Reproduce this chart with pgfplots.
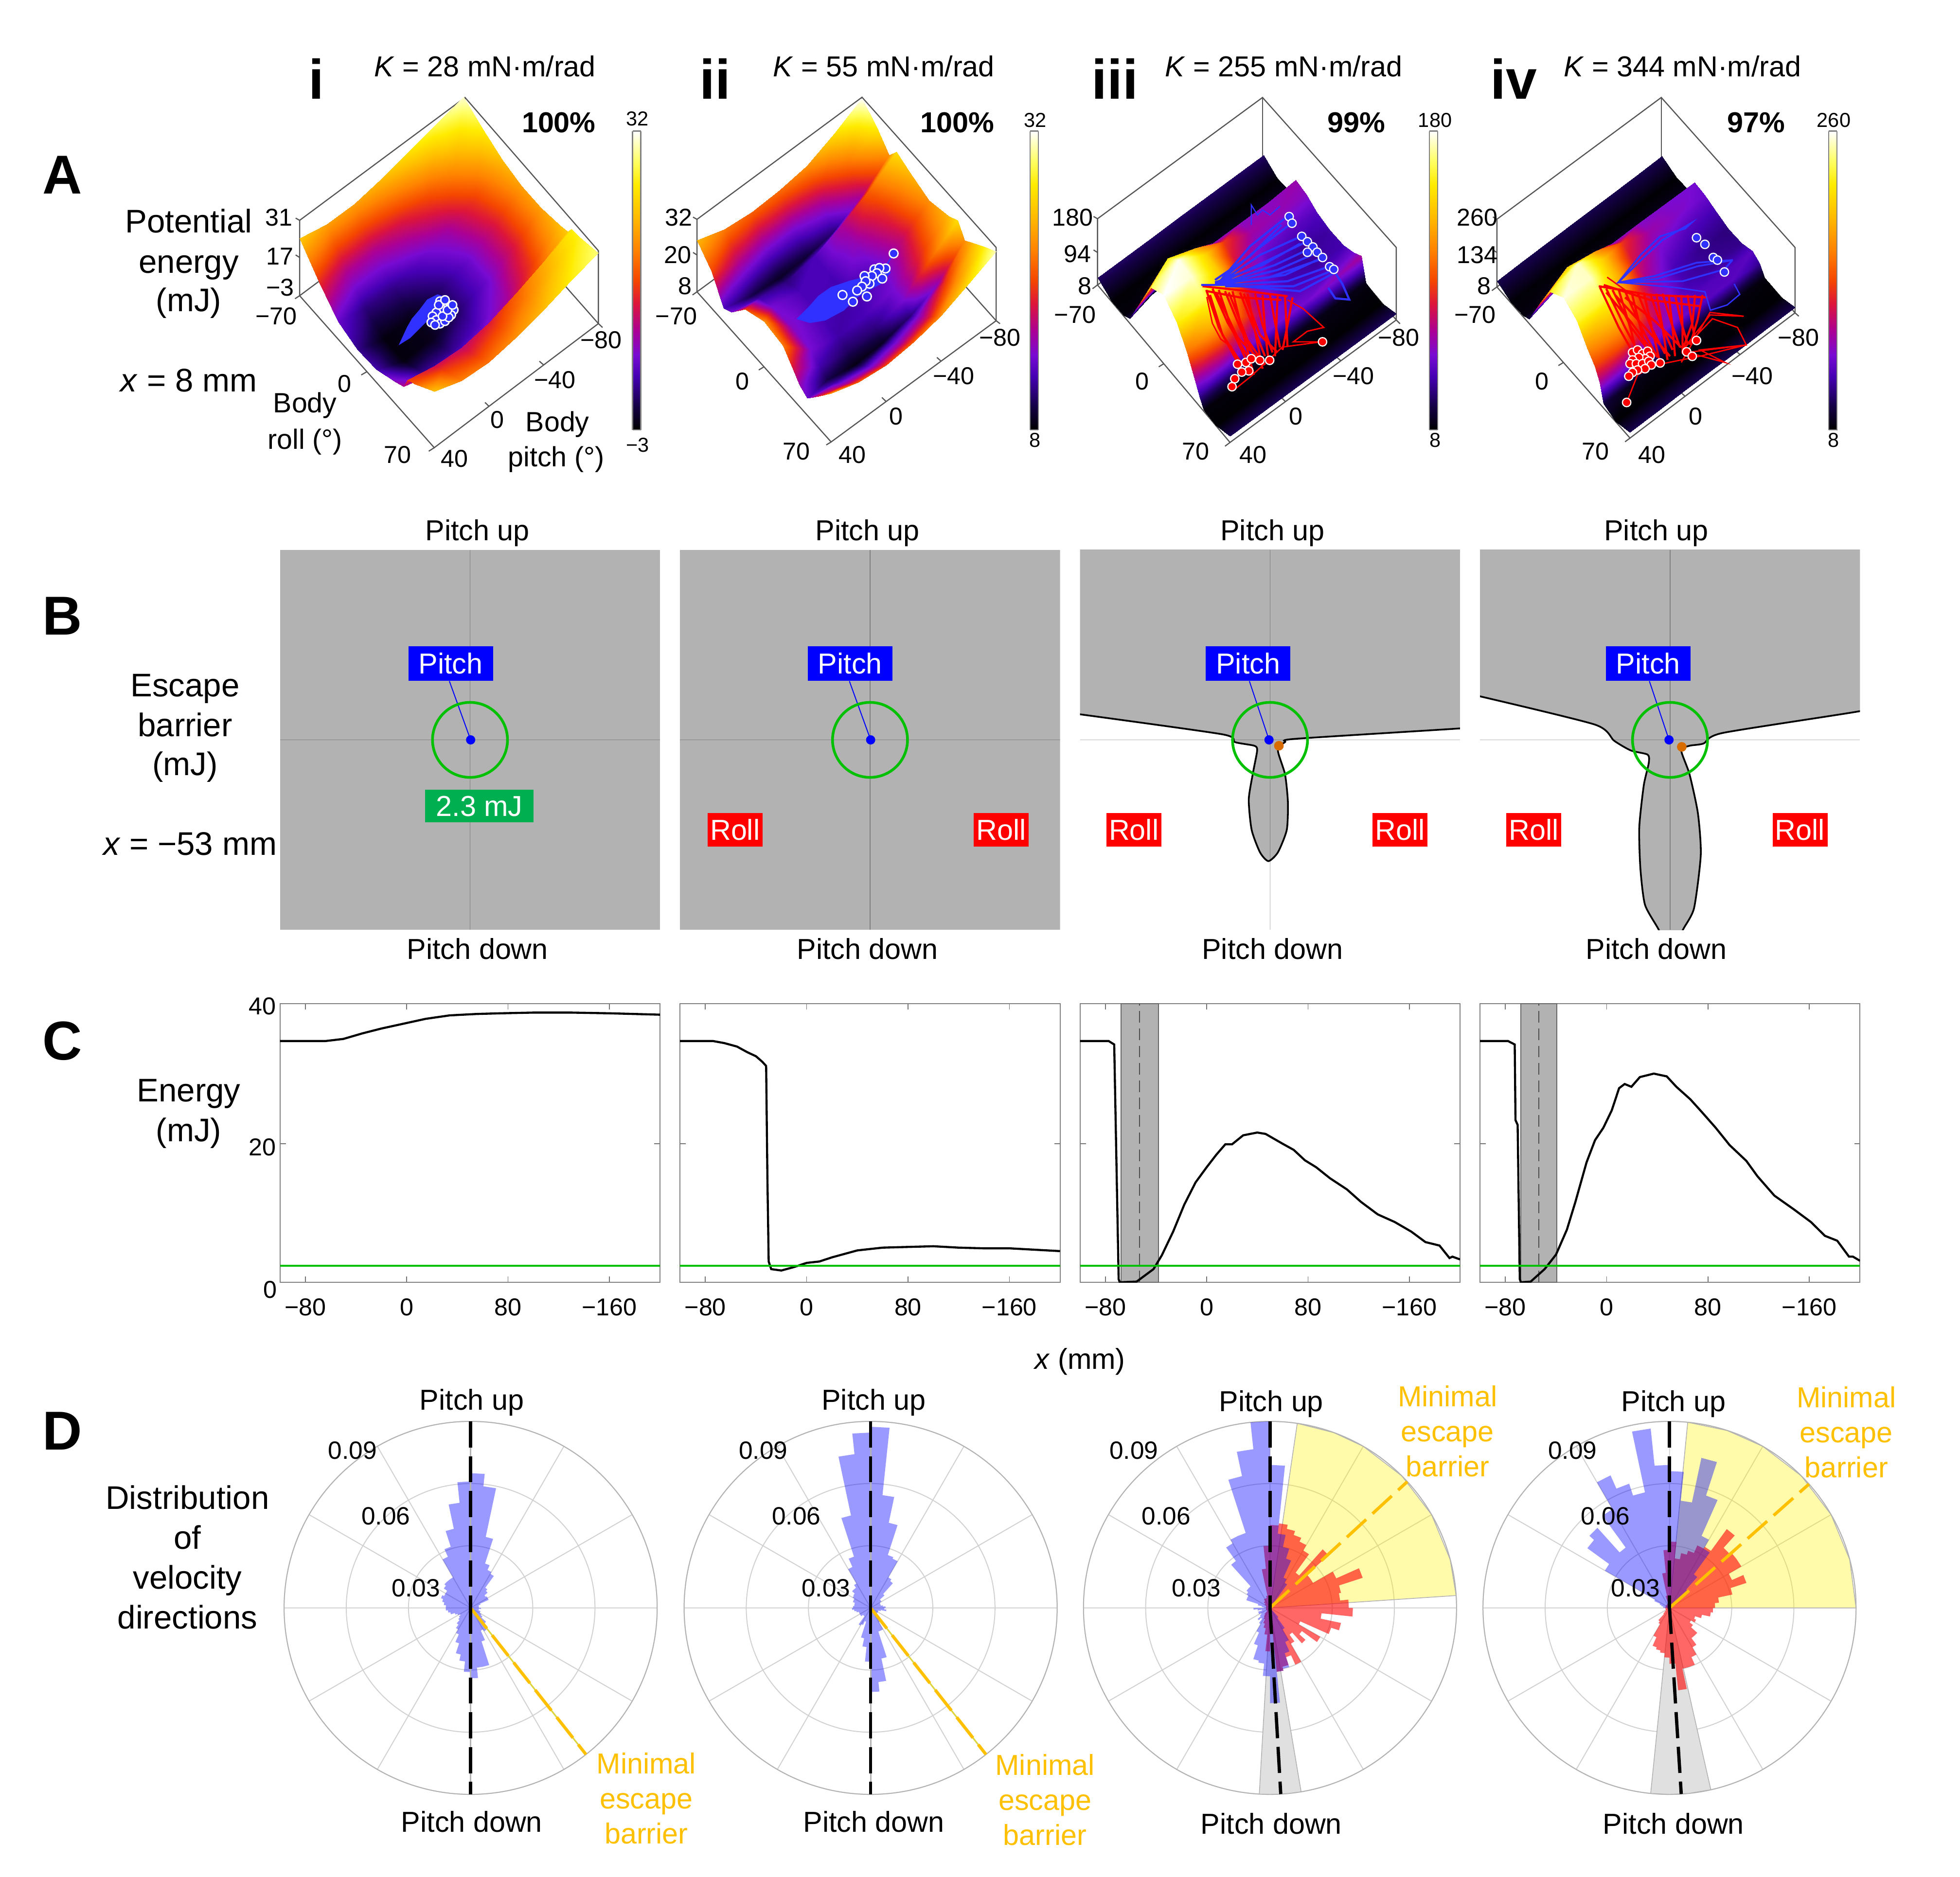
\documentclass[border=0pt]{standalone}
\usepackage{pgfplots}
\usepackage{pgfplotstable}
\usepackage{fontspec}
\setmainfont{Liberation Sans}
\pgfplotsset{compat=1.18}
\usepgfplotslibrary{polar}
\definecolor{bgray}{HTML}{B2B2B2}
\definecolor{gooseg}{HTML}{00C000}
\definecolor{boxg}{HTML}{555555}
\definecolor{traj}{HTML}{3030FF}
\definecolor{amber}{HTML}{FFC000}
\definecolor{boxgreen}{HTML}{00B050}
\newcommand{\fs}[1]{\fontsize{#1}{#1}\selectfont}

\pgfplotsset{
  colormap={sunset}{rgb255(0pt)=(0,0,0); rgb255(8pt)=(20,0,70); rgb255(18pt)=(70,0,180); rgb255(25pt)=(120,10,210);
    rgb255(33pt)=(170,0,150); rgb255(42pt)=(220,20,60); rgb255(50pt)=(245,70,0); rgb255(60pt)=(255,130,0);
    rgb255(72pt)=(255,190,0); rgb255(82pt)=(255,235,0); rgb255(90pt)=(255,255,100); rgb255(100pt)=(255,255,255)},
  pos/.style 2 args={at={(#1*0.65pt,-#2*0.65pt)}},
  ov/.style={at={(0pt,0pt)},anchor=north west,scale only axis,width=1019.2pt,height=975.98pt,
    xmin=0,xmax=1568,ymin=0,ymax=1501.5,y dir=reverse,hide axis,clip=false},
  boxl/.style={color=boxg,line width=0.6pt,no markers,unbounded coords=jump},
  sf/.style={anchor=origin,hide axis,clip=false,xmin=-80,xmax=40,ymin=-70,ymax=70},
  cb/.style={anchor=south west,scale only axis,width=4.3pt,height=155.4pt,view={0}{90},xmin=0,xmax=1,ymin=0,ymax=1,
    xtick=\empty,ytick=\empty,axis line style={color=gray,line width=0.6pt},axis on top,colormap name=sunset,
    point meta min=0,point meta max=1},
  bp/.style={anchor=south west,scale only axis,width=197.6pt,height=197.6pt,xmin=-152,xmax=152,ymin=-152,ymax=152,hide axis},
  cp/.style={anchor=south west,scale only axis,width=197.6pt,height=144.95pt,xmin=-100,xmax=200,ymin=0,ymax=40.2,
    xtick={-80,0,80,160},xticklabels={−80,0,80,−160},ytick={20},yticklabels={},tick align=inside,
    tick label style={font=\fs{12.7}},xticklabel style={yshift=-5pt},major tick length=3pt,
    axis line style={color=gray,line width=0.5pt},tick style={color=gray!90!black,line width=0.4pt}},
  dp/.style={anchor=center,scale only axis,width=194pt,height=194pt,xmin=0,xmax=360,ymin=0,ymax=0.09,
    xtick={0,30,...,330},ytick={0.03,0.06,0.09},xticklabels={},yticklabels={},grid=major,scaled ticks=false,
    grid style={color=black!18,line width=0.5pt},major tick length=0pt,
    axis line style={color=black!30,line width=0.5pt},y axis line style={draw=none}},
  bluebar/.style={fill=blue,fill opacity=0.4,draw=none},
  trj/.style={line width=1.1pt,unbounded coords=jump},
}

% surfaces: pitch, roll, energy
\pgfplotstableread[row sep=\\]{p r z\\
40 -70 23\\40 -50 13\\40 -30 5\\40 -10 2\\40 10 3\\40 30 7\\40 38 9\\40 42 14\\40 50 16\\40 70 22.5\\
20 -70 20\\20 -50 9\\20 -30 1.5\\20 -10 -2.5\\20 10 -2.5\\20 30 2\\20 38 5\\20 42 11\\20 50 13.5\\20 70 18\\
0 -70 20\\0 -50 9\\0 -30 2\\0 -10 -2\\0 10 -2\\0 30 2\\0 38 4\\0 42 10\\0 50 12\\0 70 17\\
-20 -70 22\\-20 -50 11.5\\-20 -30 4.5\\-20 -10 1\\-20 10 1\\-20 30 4\\-20 38 6\\-20 42 12\\-20 50 14\\-20 70 19\\
-40 -70 25\\-40 -50 15\\-40 -30 8\\-40 -10 5\\-40 10 5\\-40 30 8\\-40 38 10\\-40 42 16\\-40 50 17.5\\-40 70 22\\
-60 -70 28\\-60 -50 20\\-60 -30 14\\-60 -10 11.5\\-60 10 11.5\\-60 30 14\\-60 38 16\\-60 42 21\\-60 50 22\\-60 70 26\\
-80 -70 31\\-80 -50 26\\-80 -30 22\\-80 -10 20\\-80 10 20\\-80 30 22\\-80 38 23\\-80 42 26\\-80 50 26.5\\-80 70 29\\
}\surfI
\pgfplotstableread[row sep=\\]{p r z\\
40 -70 25\\40 -55 20\\40 -42 12.5\\40 -34 14\\40 -20 20\\40 0 23\\40 20 22\\40 30 18\\40 37 15\\40 45 13.6\\40 57 18.4\\40 70 24\\
20 -70 22\\20 -55 16\\20 -42 10\\20 -34 12\\20 -20 14\\20 0 14.5\\20 20 14\\20 30 12\\20 37 10\\20 45 12\\20 57 16\\20 70 21\\
0 -70 21\\0 -55 14\\0 -42 9\\0 -34 11\\0 -20 12.5\\0 0 12.5\\0 20 12\\0 30 10.5\\0 37 8.5\\0 45 11\\0 57 15\\0 70 20\\
-20 -70 21.5\\-20 -55 14\\-20 -42 9.5\\-20 -34 12.5\\-20 -20 12.5\\-20 0 12\\-20 20 12.5\\-20 30 11\\-20 37 9\\-20 45 12\\-20 57 16\\-20 70 21\\
-40 -70 23\\-40 -55 16\\-40 -42 11\\-40 -34 16\\-40 -20 15\\-40 0 13\\-40 20 14\\-40 30 14\\-40 37 11\\-40 45 14\\-40 57 18\\-40 70 23\\
-60 -70 27\\-60 -55 21\\-60 -42 16\\-60 -34 21\\-60 -20 19\\-60 0 17\\-60 20 19\\-60 30 21\\-60 37 15\\-60 45 19\\-60 57 23\\-60 70 27\\
-80 -70 32\\-80 -55 28\\-80 -42 23\\-80 -34 27\\-80 -20 25\\-80 0 23\\-80 20 25\\-80 30 27\\-80 37 23\\-80 45 25\\-80 57 28\\-80 70 31\\
}\surfII
\pgfplotstableread[row sep=\\]{p r z\\
40 -70 26\\40 -55 9\\40 -42 10\\40 -36 20\\40 -25 90\\40 -14 160\\40 0 180\\40 14 150\\40 25 105\\40 33 60\\40 38 30\\40 42 10\\40 55 8.5\\40 70 24\\
20 -70 26\\20 -55 9\\20 -42 12\\20 -36 50\\20 -25 150\\20 -14 178\\20 0 175\\20 14 160\\20 25 130\\20 33 75\\20 38 25\\20 42 10\\20 55 8.5\\20 70 24\\
0 -70 26\\0 -55 9\\0 -42 14\\0 -36 60\\0 -25 125\\0 -14 140\\0 0 135\\0 14 115\\0 25 95\\0 33 60\\0 38 14\\0 42 11\\0 55 8.5\\0 70 24\\
-20 -70 26\\-20 -55 9\\-20 -42 14\\-20 -36 55\\-20 -25 90\\-20 -14 80\\-20 0 65\\-20 14 58\\-20 25 54\\-20 33 52\\-20 38 13\\-20 42 11\\-20 55 8.5\\-20 70 24\\
-40 -70 26\\-40 -55 9\\-40 -42 14\\-40 -36 55\\-40 -25 62\\-40 -14 50\\-40 0 40\\-40 14 40\\-40 25 45\\-40 33 50\\-40 38 13\\-40 42 11\\-40 55 8.5\\-40 70 24\\
-60 -70 26\\-60 -55 9\\-60 -42 14\\-60 -36 55\\-60 -25 58\\-60 -14 44\\-60 0 34\\-60 14 36\\-60 25 44\\-60 33 56\\-60 38 12\\-60 42 11\\-60 55 8.5\\-60 70 24\\
-80 -70 26\\-80 -55 9\\-80 -42 14\\-80 -36 60\\-80 -25 55\\-80 -14 42\\-80 0 36\\-80 14 38\\-80 25 50\\-80 33 64\\-80 38 12\\-80 42 10\\-80 55 8.5\\-80 70 24\\
}\surfIII
\pgfplotstableread[row sep=\\]{p r z\\
40 -70 30\\40 -55 10\\40 -42 12\\40 -36 25\\40 -25 130\\40 -14 220\\40 0 255\\40 14 225\\40 25 167\\40 33 130\\40 38 90\\40 42 25\\40 55 9\\40 70 30\\
20 -70 30\\20 -55 10\\20 -42 14\\20 -36 60\\20 -25 190\\20 -14 250\\20 0 250\\20 14 225\\20 25 185\\20 33 140\\20 38 85\\20 42 15\\20 55 9\\20 70 30\\
0 -70 30\\0 -55 9\\0 -42 15\\0 -36 70\\0 -25 170\\0 -14 190\\0 0 180\\0 14 150\\0 25 125\\0 33 95\\0 38 50\\0 42 12\\0 55 9\\0 70 30\\
-20 -70 30\\-20 -55 9\\-20 -42 15\\-20 -36 75\\-20 -25 125\\-20 -14 110\\-20 0 92\\-20 14 82\\-20 25 75\\-20 33 68\\-20 38 20\\-20 42 12\\-20 55 9\\-20 70 30\\
-40 -70 30\\-40 -55 9\\-40 -42 15\\-40 -36 75\\-40 -25 85\\-40 -14 72\\-40 0 55\\-40 14 52\\-40 25 58\\-40 33 60\\-40 38 14\\-40 42 11\\-40 55 9\\-40 70 30\\
-60 -70 30\\-60 -55 9\\-60 -42 15\\-60 -36 72\\-60 -25 75\\-60 -14 58\\-60 0 44\\-60 14 46\\-60 25 58\\-60 33 60\\-60 38 13\\-60 42 11\\-60 55 9\\-60 70 30\\
-80 -70 30\\-80 -55 9\\-80 -42 15\\-80 -36 70\\-80 -25 66\\-80 -14 52\\-80 0 40\\-80 14 44\\-80 25 60\\-80 33 45\\-80 38 12\\-80 42 10\\-80 55 9\\-80 70 30\\
}\surfIV
\pgfplotstableread[row sep=\\]{x y z\\
0 0 0\\1 0 0\\0 0.1 0.1\\1 0.1 0.1\\0 0.2 0.2\\1 0.2 0.2\\0 0.3 0.3\\1 0.3 0.3\\0 0.4 0.4\\1 0.4 0.4\\0 0.5 0.5\\1 0.5 0.5\\
0 0.6 0.6\\1 0.6 0.6\\0 0.7 0.7\\1 0.7 0.7\\0 0.8 0.8\\1 0.8 0.8\\0 0.9 0.9\\1 0.9 0.9\\0 1 1\\1 1 1\\
}\cbar

% rose histograms: 6 degree bins, clockwise from pitch up
\newcommand{\makerose}[2]{\gdef#1{}\foreach \v [count=\k from 0] in {#2} {%
  \pgfmathsetmacro\aa{90-6*\k}\pgfmathsetmacro\ab{90-6*\k-6}\xdef#1{#1(\aa,\v)(\ab,\v)}}}
\newcommand{\plotrose}[2]{\edef\tmp{\noexpand\addplot[#1] coordinates {#2} --cycle;}\tmp}
\makerose{\rI}{0.065,0.059,0.035,0.0225,0.02,0.019,0.012,0.011,0.009,0.0095,0.0095,0.005,0.004,0.004,0.004,0.005,0.004,0.004,0.005,0.005,0.006,0.007,0.01,0.012,0.013,0.012,0.017,0.029,0.029,0.034,0.031,0.026,0.023,0.018,0.014,0.012,0.01,0.008,0.007,0.006,0.007,0.008,0.01,0.011,0.012,0.012,0.013,0.014,0.015,0.014,0.014,0.016,0.017,0.017,0.017,0.027,0.031,0.039,0.051,0.061}
\makerose{\rII}{0.0874,0.0547,0.042,0.0268,0.026,0.017,0.016,0.009,0.006,0.006,0.005,0.005,0.005,0.006,0.0072,0.0066,0.0076,0.005,0.004,0.004,0.004,0.004,0.004,0.006,0.008,0.012,0.012,0.025,0.036,0.0406,0.026,0.019,0.015,0.007,0.009,0.0098,0.005,0.005,0.006,0.006,0.006,0.006,0.007,0.008,0.009,0.0085,0.008,0.008,0.009,0.009,0.01,0.0103,0.012,0.012,0.0136,0.0216,0.026,0.0456,0.0746,0.0846}
\makerose{\rIIIb}{0.069,0.036,0.03,0.025,0.016,0.014,0.003,0.001,0.001,0.001,0.001,0.001,0.001,0.001,0.001,0.001,0.001,0.001,0.001,0.001,0.001,0.001,0.001,0.006,0.012,0.018,0.023,0.03,0.031,0.046,0.033,0.027,0.026,0.019,0.013,0.009,0.0065,0.008,0.006,0.005,0.006,0.006,0.004,0.006,0.008,0.003,0.004,0.006,0.012,0.012,0.013,0.014,0.014,0.028,0.036,0.038,0.038,0.065,0.077,0.09}
\makerose{\rIIIr}{0.04,0.041,0.039,0.037,0.035,0.032,0.021,0.038,0.024,0.024,0.035,0.047,0.035,0.034,0.038,0.04,0.025,0.035,0.031,0.016,0.028,0.019,0.023,0.016,0.02,0.03,0.025,0.029,0.031,0.01,0.021,0.013,0.01,0.008,0.006,0.005,0.004,0.002,0.002,0.002,0.002,0.002,0.002,0.002,0.002,0.002,0.002,0.002,0.002,0.002,0.003,0.003,0.004,0.004,0.005,0.005,0.005,0.006,0.019,0.03}
\makerose{\rIVb}{0.066,0.052,0.074,0.057,0.038,0.033,0.02,0.012,0.007,0.004,0.001,0.001,0.001,0.001,0.001,0.001,0.001,0.001,0.001,0.001,0.001,0.001,0.001,0.001,0.001,0.001,0.001,0.001,0.001,0.001,0.001,0.001,0.001,0.001,0.001,0.001,0.001,0.001,0.001,0.001,0.001,0.001,0.001,0.001,0.001,0.003,0.003,0.004,0.005,0.008,0.036,0.049,0.052,0.036,0.055,0.07,0.063,0.057,0.087,0.069}
\makerose{\rIVr}{0.032,0.024,0.027,0.029,0.033,0.034,0.047,0.039,0.04,0.04,0.033,0.039,0.031,0.024,0.022,0.021,0.02,0.016,0.013,0.014,0.012,0.014,0.018,0.018,0.022,0.026,0.03,0.03,0.04,0.027,0.024,0.022,0.021,0.02,0.0155,0.009,0.008,0.004,0.003,0.002,0.002,0.002,0.002,0.002,0.002,0.002,0.002,0.002,0.002,0.002,0.002,0.002,0.002,0.002,0.002,0.002,0.002,0.006,0.017,0.028}

\begin{document}
\begin{tikzpicture}[x=0.65pt,y=-0.65pt]
\path[use as bounding box] (0,0) rectangle (1568,1501.5);

% ---- A: box frames
\begin{axis}[ov]
\addplot[boxl] coordinates {(239.7,236.6)(239.7,176.3)(372,78)(478.7,200.6)(478.7,258.9)(347.4,358.2)(239.7,236.6)(372,138)(478.7,258.9)};
\addplot[boxl] coordinates {(372,78)(372,138)};
\addplot[boxl] coordinates {(239.7,176.3)(236.5,174.5)(nan,nan)(239.7,206)(236.5,204)(nan,nan)(239.7,236.6)(236,239)(nan,nan)(293.5,297.4)(289,300)(nan,nan)(347.4,358.2)(343,361)(nan,nan)(391.2,325.1)(388,322)(nan,nan)(434.9,292)(431.5,289)(nan,nan)(478.7,258.9)(482,262)};
\addplot[boxl] coordinates {(557.6,233.5)(557.6,175.5)(689.6,77.8)(796.9,198)(796.9,256.6)(664.9,353.6)(557.6,233.5)(689.6,136.5)(796.9,256.6)};
\addplot[boxl] coordinates {(689.6,77.8)(689.6,136.5)};
\addplot[boxl] coordinates {(557.6,175.5)(554.4,173.7)(nan,nan)(557.6,204)(554.4,202)(nan,nan)(557.6,233.5)(554,236)(nan,nan)(611.2,293.5)(607,296)(nan,nan)(664.9,353.6)(661,356)(nan,nan)(708.9,321.3)(705.5,318)(nan,nan)(752.9,289)(749.5,286)(nan,nan)(796.9,256.6)(800,259)};
\addplot[boxl] coordinates {(878,228)(878,175)(1010,78)(1117,198)(1117,256)(984,354)(878,228)(1011,130)(1117,256)};
\addplot[boxl] coordinates {(1010,78)(1010,130)};
\addplot[boxl] coordinates {(878,175)(874.8,173.2)(nan,nan)(878,202)(874.8,200)(nan,nan)(878,228)(874,231)(nan,nan)(931,291)(927,293.5)(nan,nan)(984,354)(980,357)(nan,nan)(1028.3,321.3)(1025,318)(nan,nan)(1072.7,288.7)(1069.3,285.7)(nan,nan)(1117,256)(1120,259)};
\addplot[boxl] coordinates {(1197.5,229.6)(1197.5,175.4)(1329,78)(1436,198)(1436,250.3)(1304,350.5)(1197.5,229.6)(1329,130)(1436,250.3)};
\addplot[boxl] coordinates {(1329,78)(1329,130)};
\addplot[boxl] coordinates {(1197.5,175.4)(1194.3,173.6)(nan,nan)(1197.5,202)(1194.3,200)(nan,nan)(1197.5,229.6)(1193.5,232.5)(nan,nan)(1250.7,290)(1246.7,292.5)(nan,nan)(1304,350.5)(1300,353.5)(nan,nan)(1348,317)(1344.6,314)(nan,nan)(1392,283.7)(1388.6,280.7)(nan,nan)(1436,250.3)(1439,253)};
\end{axis}

% ---- A: surfaces
\begin{axis}[sf,pos={337.3}{259},x={(-0.711pt,-0.538pt)},y={(0.5pt,-0.565pt)},z={(0pt,1.147pt)},zmin=-3,zmax=32]
\addplot3[surf,shader=interp,colormap name=sunset,point meta=z,point meta min=-3,point meta max=32,mesh/ordering=y varies,mesh/rows=10,mesh/cols=7,z buffer=sort] table[x=p,y=r,z=z] {\surfI};
\end{axis}
\begin{axis}[sf,pos={655.25}{280.5},x={(-0.715pt,-0.525pt)},y={(0.498pt,-0.558pt)},z={(0pt,1.571pt)},zmin=0,zmax=32]
\addplot3[surf,shader=interp,colormap name=sunset,point meta=z,point meta min=8,point meta max=32,mesh/ordering=y varies,mesh/rows=12,mesh/cols=7,z buffer=sort] table[x=p,y=r,z=z] {\surfII};
\end{axis}
\begin{axis}[sf,pos={975.3}{260.9},x={(-0.72pt,-0.531pt)},y={(0.492pt,-0.585pt)},z={(0pt,0.2079pt)},zmin=0,zmax=180]
\addplot3[surf,shader=interp,colormap name=sunset,point meta=z,point meta min=8,point meta max=180,mesh/ordering=y varies,mesh/rows=14,mesh/cols=7,z buffer=sort] table[x=p,y=r,z=z] {\surfIII};
\end{axis}
\begin{axis}[sf,pos={1294.75}{258.35},x={(-0.715pt,-0.542pt)},y={(0.494pt,-0.562pt)},z={(0pt,0.1367pt)},zmin=0,zmax=260]
\addplot3[surf,shader=interp,colormap name=sunset,point meta=z,point meta min=8,point meta max=260,mesh/ordering=y varies,mesh/rows=14,mesh/cols=7,z buffer=sort] table[x=p,y=r,z=z] {\surfIV};
\end{axis}

% ---- A: colour bars
\begin{axis}[cb,pos={506}{344}]\addplot3[surf,shader=interp,point meta=z,mesh/cols=2] table {\cbar};\end{axis}
\begin{axis}[cb,pos={824}{344}]\addplot3[surf,shader=interp,point meta=z,mesh/cols=2] table {\cbar};\end{axis}
\begin{axis}[cb,pos={1143.6}{344}]\addplot3[surf,shader=interp,point meta=z,mesh/cols=2] table {\cbar};\end{axis}
\begin{axis}[cb,pos={1463}{344}]\addplot3[surf,shader=interp,point meta=z,mesh/cols=2] table {\cbar};\end{axis}

% ---- A: trajectories
\begin{axis}[ov]
\addplot[fill=traj,draw=traj,line width=0.6pt] coordinates {(320,275)(326,262)(330,255)(336,248)(342,240)(350,236)(356,238)(352,245)(346,252)(340,258)(334,264)(328,270)} --cycle;
\addplot[only marks,mark=*,mark size=2.2pt,mark options={fill=traj,draw=white,line width=0.7pt}] coordinates {(352,241)(356,244)(360,246)(363,248)(361,252)(357,250)(353,247)(349,250)(346,253)(349,256)(352,259)(356,257)(359,254)(354,253)(351,244)(358,248)(345,258)(348,260)(362,244)(356,240)};
\addplot[fill=traj,draw=traj,line width=0.6pt] coordinates {(638,255)(648,245)(655,237)(665,230)(680,225)(692,222)(700,218)(708,214)(712,218)(706,226)(695,232)(685,238)(675,248)(660,256)(648,258)} --cycle;
\addplot[traj,line width=0.6pt] coordinates {(708,214)(714.9,202.8)};
\addplot[only marks,mark=*,mark size=2.3pt,mark options={fill=traj,draw=white,line width=0.7pt}] coordinates {(714.9,202.8)(708.4,214.8)(699.5,215.5)(703.5,214.4)(701.5,218.6)(697.5,220.8)(691.6,220.8)(705.8,222.9)(695.6,227)(692.5,225)(689.6,229.3)(685.7,232.4)(693.5,237.2)(682.3,241.4)(674,236)};
% iii
\addplot[red,trj] coordinates {(965,232)(975,262)(990,290)(nan,nan)(970,231)(982,258)(998,285)(nan,nan)(975,232)(985,262)(1000,295)(nan,nan)(980,233)(992,262)(1006,290)(nan,nan)(986,233)(994,265)(1003,300)(nan,nan)(992,234)(1002,260)(1012,285)(nan,nan)(998,235)(1004,265)(1010,295)(nan,nan)(1004,235)(1010,260)(1018,282)(nan,nan)(1010,236)(1012,265)(1015,290)(nan,nan)(1016,236)(1020,258)(1024,278)(nan,nan)(1022,237)(1021,262)(1020,285)(nan,nan)(1028,237)(1029,258)(1030,277)(nan,nan)(1034,238)(1030,260)(1026,280)(nan,nan)(968,236)(978,268)(994,292)(nan,nan)(973,234)(990,270)(1008,288)(nan,nan)(983,234)(998,272)(1012,292)(nan,nan)(995,235)(1008,268)(1022,282)(nan,nan)(962,229)(990,232)(1030,237)(nan,nan)(966,233)(992,238)(1025,240)};
\addplot[red,line width=0.7pt] coordinates {(965.4,237.6)(969.9,258.7)(976.6,271.4)(985.5,277.7)};
\addplot[red,line width=0.7pt] coordinates {(1030,240)(1042.5,247)(1059,262)(1045.9,265)(1034.7,273.5)(1057,273.5)(1025.8,277.7)(1001,300.9)(987.8,311.5)};
\addplot[only marks,mark=*,mark size=2.2pt,mark options={fill=red,draw=white,line width=0.6pt}] coordinates {(990,291.4)(996.7,290)(1001,287)(1007.9,288.3)(1015.7,288.3)(999,296.7)(993.4,297.7)(987.8,303)(985.6,309.4)(1058,273.5)};
\addplot[traj,trj] coordinates {(975,226)(1000,197)(1030,173)(nan,nan)(975,226)(1005,200)(1034,178)(nan,nan)(976,226)(1008,204)(1041,189)(nan,nan)(977,226)(1015,208)(1046,193)(nan,nan)(977,227)(1020,212)(1050,198)(nan,nan)(978,227)(1022,216)(1054,202)(nan,nan)(978,227)(1028,220)(1058,206)(nan,nan)(979,228)(1030,225)(1064,213)(nan,nan)(980,229)(1035,229)(1067,216)(nan,nan)(972,224)(1000,205)(1025,180)(nan,nan)(972,226)(1010,212)(1040,195)(nan,nan)(972,227)(1015,222)(1055,208)(nan,nan)(961,228)(980,228)(1040,233)(1068,218)(1073.8,227)(1079.4,239.7)(1068.2,238.7)(1062.6,230.3)};
\addplot[traj,line width=0.6pt] coordinates {(1001,180)(1001,164)(1006,172)(1010,168)(1016,172)(1024,165)};
\addplot[only marks,mark=*,mark size=2.2pt,mark options={fill=traj,draw=white,line width=0.6pt}] coordinates {(1031.3,173.3)(1033.6,178.6)(1041.4,189.1)(1045.9,193.4)(1050.3,197.6)(1053.7,201.8)(1058,206)(1063.7,213.4)(1067,215.5)(1045.9,201.8)};
% iv
\addplot[red,trj] coordinates {(1280,230)(1295,262)(1308,285)(nan,nan)(1285,231)(1300,262)(1315,290)(nan,nan)(1290,232)(1305,262)(1320,282)(nan,nan)(1295,232)(1305,265)(1312,295)(nan,nan)(1300,233)(1313,262)(1326,286)(nan,nan)(1305,233)(1313,265)(1320,292)(nan,nan)(1310,234)(1321,262)(1332,283)(nan,nan)(1315,234)(1322,265)(1328,290)(nan,nan)(1320,235)(1329,260)(1338,280)(nan,nan)(1325,235)(1330,262)(1334,288)(nan,nan)(1330,235)(1337,258)(1344,278)(nan,nan)(1335,236)(1338,262)(1340,285)(nan,nan)(1340,236)(1345,258)(1350,275)(nan,nan)(1345,236)(1346,262)(1346,283)(nan,nan)(1350,236)(1353,255)(1356,272)(nan,nan)(1356,236)(1354,258)(1346,280)(nan,nan)(1362,236)(1358,256)(1352,276)(nan,nan)(1285,234)(1305,258)(1325,285)(nan,nan)(1292,236)(1316,262)(1336,285)(nan,nan)(1300,238)(1325,258)(1345,278)(nan,nan)(1283,228)(1320,240)(1360,245)(nan,nan)(1279,229)(1320,236)(1366,238)};
\addplot[red,line width=0.7pt] coordinates {(1285.7,221.8)(1300,232)(1279,229.2)};
\addplot[red,line width=0.7pt] coordinates {(1345,290)(1368,250)(1395,253)(1368,252)(1346,280)(1370,255)(1390,262)(1397,276)(1360,280)(1380,290)(1350,282)(1397,276)(1360,285)(1325,292)(1310,300)(1301.3,322)};
\addplot[traj,line width=0.9pt] coordinates {(1294.6,226)(1312.5,203.9)(1328.1,189.1)(1348.2,182.8)(1352.7,178.6)(1330,192)(1314,207)(1294.6,226)(1323.7,220.8)(1357.2,210.2)(1386.2,208.1)(1358,213)(1326,223)(1294.6,226)(1346,225)(1379.5,215.5)(1386,208)};
\addplot[traj,line width=0.7pt] coordinates {(1294.6,226)(1340,230)(1363.9,233.4)(1368.3,248.2)(1381.7,244)(1391.8,235.5)(1387.3,227.1)};
\addplot[only marks,mark=*,mark size=2.2pt,mark options={fill=traj,draw=white,line width=0.6pt}] coordinates {(1357.2,190.2)(1363.9,195.5)(1370.6,206)(1373.9,208.1)(1379.5,217.6)};
\addplot[only marks,mark=*,mark size=2.2pt,mark options={fill=red,draw=white,line width=0.6pt}] coordinates {(1306,282)(1310,280)(1314,283)(1318,281)(1320,285)(1316,287)(1311,286)(1306,288)(1304,291)(1309,291)(1314,291)(1319,289)(1321,292)(1316,295)(1310,296)(1306,298)(1303,301)(1301.3,322)(1328.1,290.4)(1349.3,281.5)(1357.2,272.4)(1353.8,285.1)};
\end{axis}

% ---- B: escape barrier maps
\begin{axis}[bp,pos={224}{744}]
\addplot[fill=bgray,draw=none] coordinates {(-152,-152)(152,-152)(152,152)(-152,152)} --cycle;
\addplot[black!50,line width=0.4pt] coordinates {(0,-152)(0,152)};
\addplot[black!50,line width=0.4pt] coordinates {(-152,0)(152,0)};
\addplot[only marks,mark=o,mark size=19.5pt,mark options={draw=gooseg,line width=1.4pt}] coordinates {(0,0)};
\addplot[blue,line width=0.5pt] coordinates {(-16.5,47)(0.5,0)};
\addplot[only marks,mark=*,mark size=2.2pt,mark options={fill=blue,draw=blue}] coordinates {(0.5,0)};
\end{axis}
\begin{axis}[bp,pos={544}{744}]
\addplot[fill=bgray,draw=none] coordinates {(-152,-152)(152,-152)(152,152)(-152,152)} --cycle;
\addplot[black!50,line width=0.4pt] coordinates {(0,-152)(0,152)};
\addplot[black!50,line width=0.4pt] coordinates {(-152,0)(152,0)};
\addplot[only marks,mark=o,mark size=19.5pt,mark options={draw=gooseg,line width=1.4pt}] coordinates {(0,0)};
\addplot[blue,line width=0.5pt] coordinates {(-16.5,47)(0.5,0)};
\addplot[only marks,mark=*,mark size=2.2pt,mark options={fill=blue,draw=blue}] coordinates {(0.5,0)};
\end{axis}
\begin{axis}[bp,pos={864}{744}]
\addplot[fill=bgray,draw=black,line width=0.9pt,smooth,tension=0.4] coordinates {(-170,25)(-170,170)(170,170)(170,11.3)(152.3,9.2)(21,0.9)(12,-1.8)(6.3,-8.5)(12,-27.5)(14.3,-49.8)(13.4,-72)(6.3,-90)(-1.3,-97)(-8,-90)(-14.7,-72)(-17,-47.6)(-13.4,-25.2)(-10.3,-8.5)(-12.5,-4.7)(-28,-1.8)(-38.4,4.5)(-152.3,20.5)} --cycle;
\addplot[black,opacity=0.28,line width=0.4pt] coordinates {(0,-152)(0,152)};
\addplot[black,opacity=0.28,line width=0.4pt] coordinates {(-152,0)(152,0)};
\addplot[only marks,mark=o,mark size=19.5pt,mark options={draw=gooseg,line width=1.4pt}] coordinates {(0,0)};
\addplot[blue,line width=0.5pt] coordinates {(-16.5,47)(-0.8,0)};
\addplot[only marks,mark=*,mark size=2.2pt,mark options={fill=blue,draw=blue}] coordinates {(-0.8,0)};
\addplot[only marks,mark=*,mark size=2.3pt,mark options={fill=orange!85!black,draw=orange!85!black}] coordinates {(7.1,-4.7)};
\end{axis}
\begin{axis}[bp,pos={1184}{744}]
\addplot[fill=bgray,draw=black,line width=0.9pt,smooth,tension=0.4] coordinates {(-170,44)(-170,170)(170,170)(170,29)(152,23)(42.4,5.6)(26.8,-2.9)(15.6,-4.7)(9,-8.5)(15.6,-27.5)(22.3,-58.7)(24.6,-92)(19.2,-134.7)(10.3,-152)(6,-165)(-5,-165)(-9,-152)(-20,-132)(-23.7,-103)(-24.6,-70)(-21,-36.4)(-17,-18.5)(-17.9,-11.8)(-31.3,-8.5)(-44.7,-0.7)(-60.3,12.3)(-152.7,35)} --cycle;
\addplot[black,opacity=0.28,line width=0.4pt] coordinates {(0,-152)(0,152)};
\addplot[black,opacity=0.28,line width=0.4pt] coordinates {(-152,0)(152,0)};
\addplot[only marks,mark=o,mark size=19.5pt,mark options={draw=gooseg,line width=1.4pt}] coordinates {(0,0)};
\addplot[blue,line width=0.5pt] coordinates {(-16.5,47)(-0.8,0)};
\addplot[only marks,mark=*,mark size=2.2pt,mark options={fill=blue,draw=blue}] coordinates {(-0.8,0)};
\addplot[only marks,mark=*,mark size=2.3pt,mark options={fill=orange!85!black,draw=orange!85!black}] coordinates {(9.4,-5.6)};
\end{axis}

% ---- C: energy along x
\begin{axis}[cp,pos={224}{1026}]
\addplot[black,line width=1.1pt] coordinates {(-100,34.8)(-64,34.8)(-50,35.1)(-35,35.9)(-20,36.6)(-5,37.2)(15,38)(34,38.5)(55,38.7)(74,38.8)(100,38.9)(130,38.9)(160,38.8)(200,38.6)};
\addplot[gooseg,line width=1pt] coordinates {(-100,2.4)(200,2.4)};
\end{axis}
\begin{axis}[cp,pos={544}{1026}]
\addplot[black,line width=1.1pt] coordinates {(-100,34.8)(-74,34.8)(-65,34.5)(-55,34)(-47,33.2)(-40,32.6)(-35,31.8)(-32,31.2)(-31,15)(-30,3)(-28,1.9)(-20,1.7)(-10,2.2)(0,2.8)(10,3)(20,3.6)(30,4.1)(40,4.6)(60,5)(80,5.1)(100,5.2)(120,5)(140,4.9)(160,4.9)(180,4.7)(200,4.5)};
\addplot[gooseg,line width=1pt] coordinates {(-100,2.4)(200,2.4)};
\end{axis}
\begin{axis}[cp,pos={864}{1026}]
\addplot[fill=bgray,draw=black!60,line width=0.5pt] coordinates {(-67.7,0)(-38,0)(-38,40.2)(-67.7,40.2)} --cycle;
\addplot[black!70,line width=0.4pt,dash pattern=on 6pt off 3pt] coordinates {(-53,0)(-53,40.2)};
\addplot[black,line width=1.1pt] coordinates {(-100,34.8)(-77.4,34.8)(-73,34.3)(-69.5,0.45)(-68.6,0)(-55.3,0.1)(-42,1.9)(-35.4,3.9)(-26.5,7.3)(-17.7,11.2)(-8.8,14.4)(0,16.6)(7.6,18.4)(14.7,19.9)(20,19.9)(28.8,21.2)(39.9,21.6)(46.5,21.4)(59.8,20)(68.7,19.1)(77.5,17.6)(86.4,16.6)(97.4,15)(110.7,13.4)(121.8,11.6)(135,9.8)(148.4,8.7)(161.6,7.3)(172.7,5.8)(183.8,5.3)(191.7,3.5)(194,3.7)(200,3.3)};
\addplot[gooseg,line width=1pt] coordinates {(-100,2.4)(200,2.4)};
\end{axis}
\begin{axis}[cp,pos={1184}{1026}]
\addplot[fill=bgray,draw=black!60,line width=0.5pt] coordinates {(-67.7,0)(-39.4,0)(-39.4,40.2)(-67.7,40.2)} --cycle;
\addplot[black!70,line width=0.4pt,dash pattern=on 6pt off 3pt] coordinates {(-53.5,0)(-53.5,40.2)};
\addplot[black,line width=1.1pt] coordinates {(-100,34.8)(-77.9,34.8)(-72.6,34.3)(-72,23.4)(-70.3,22.7)(-68.6,0.45)(-67.7,0)(-60,0.1)(-49,1.9)(-40,4)(-31.4,7.6)(-24.7,11.6)(-15.9,17.3)(-9.2,20.5)(-2.6,22.3)(4,24.8)(9.8,28)(14.2,28.6)(19.5,28.2)(26.2,29.6)(37.2,30.1)(47.4,29.7)(55,28.2)(66,26.4)(74.9,24.6)(86,22.3)(97,19.8)(110.3,17.5)(119,15.3)(132.4,12.5)(147.9,10.5)(161.2,8.7)(172.3,6.7)(182,6)(191.3,3.7)(194.4,3.7)(200,3.1)};
\addplot[gooseg,line width=1pt] coordinates {(-100,2.4)(200,2.4)};
\end{axis}

% ---- D: direction roses
\begin{polaraxis}[dp,pos={376.5}{1286.5}]
\plotrose{bluebar}{\rI}
\addplot[yellow!70!gray,line width=0.8pt] coordinates {(0,0)(308.2,0.09)};
\addplot[amber,line width=1.6pt,dash pattern=on 13.6pt off 4.5pt] coordinates {(0,0)(308.2,0.09)};
\addplot[black!30,line width=0.8pt] coordinates {(90,0.09)(270,0.09)};
\addplot[black,line width=1.7pt,dash pattern=on 13.6pt off 4.5pt] coordinates {(90,0.09)(0,0)};
\addplot[black,line width=1.7pt,dash pattern=on 13.6pt off 4.5pt] coordinates {(0,0)(270,0.09)};
\end{polaraxis}
\begin{polaraxis}[dp,pos={696.5}{1286.5}]
\plotrose{bluebar}{\rII}
\addplot[yellow!70!gray,line width=0.8pt] coordinates {(0,0)(308.2,0.09)};
\addplot[amber,line width=1.6pt,dash pattern=on 13.6pt off 4.5pt] coordinates {(0,0)(308.2,0.09)};
\addplot[black!30,line width=0.8pt] coordinates {(90,0.09)(270,0.09)};
\addplot[black,line width=1.7pt,dash pattern=on 13.6pt off 4.5pt] coordinates {(90,0.09)(0,0)};
\addplot[black,line width=1.7pt,dash pattern=on 13.6pt off 4.5pt] coordinates {(0,0)(270,0.09)};
\end{polaraxis}
\begin{polaraxis}[dp,pos={1016}{1286.5}]
\addplot[fill=yellow,fill opacity=0.33,draw=black!30,line width=0.4pt] coordinates {(0,0)(3.8,0.09)(15,0.09)(30,0.09)(45,0.09)(60,0.09)(70,0.09)(81.6,0.09)} --cycle;
\addplot[fill=black!12,draw=black!30,line width=0.4pt] coordinates {(0,0)(266.7,0.09)(270,0.09)(273,0.09)(276,0.09)(279.6,0.09)} --cycle;
\plotrose{fill=red,fill opacity=0.6,draw=none}{\rIIIr}
\plotrose{bluebar}{\rIIIb}
\addplot[amber,line width=1.6pt,dash pattern=on 13.6pt off 4.5pt] coordinates {(0,0)(42.6,0.09)};
\addplot[black,line width=1.7pt,dash pattern=on 13.6pt off 4.5pt] coordinates {(90,0.09)(0,0)};
\addplot[black,line width=1.7pt,dash pattern=on 13.6pt off 4.5pt] coordinates {(0,0)(273.3,0.09)};
\end{polaraxis}
\begin{polaraxis}[dp,pos={1335.6}{1286.5}]
\addplot[fill=yellow,fill opacity=0.33,draw=black!30,line width=0.4pt] coordinates {(0,0)(0,0.09)(15,0.09)(30,0.09)(45,0.09)(60,0.09)(72,0.09)(84.4,0.09)} --cycle;
\addplot[fill=black!12,draw=black!30,line width=0.4pt] coordinates {(0,0)(264.2,0.09)(270,0.09)(276,0.09)(282.8,0.09)} --cycle;
\plotrose{fill=red,fill opacity=0.6,draw=none}{\rIVr}
\plotrose{bluebar}{\rIVb}
\addplot[amber,line width=1.6pt,dash pattern=on 13.6pt off 4.5pt] coordinates {(0,0)(41.6,0.09)};
\addplot[black,line width=1.7pt,dash pattern=on 13.6pt off 4.5pt] coordinates {(90,0.09)(0,0)};
\addplot[black,line width=1.7pt,dash pattern=on 13.6pt off 4.5pt] coordinates {(0,0)(273.6,0.09)};
\end{polaraxis}

% ---- text
\tikzset{every node/.style={inner sep=0pt,outer sep=0pt,align=center},tx/.style={text height=14pt,text depth=3.2pt}}
\foreach \t/\px/\py in {A/50/140,B/50/493,C/50/833,D/50/1145}
  \node[font=\fs{28.5}\bfseries] at (\px,\py) {\t};
\foreach \t/\px in {i/253,ii/572,iii/892,iv/1211}
  \node[font=\fs{29}\bfseries] at (\px,63) {\t};
\foreach \t/\px in {28/388,55/707,255/1027,344/1346}
  \node[font=\fs{15},tx] at (\px,53) {\textit{K} = \t{} mN·m/rad};
\foreach \t/\px in {100\%/447,100\%/766,99\%/1085,97\%/1405}
  \node[font=\fs{15}\bfseries] at (\px,98) {\t};
\foreach \t/\py in {Potential/178,energy/210,(mJ)/241}
  \node[font=\fs{17},tx] at (151,\py) {\t};
\node[font=\fs{17},tx] at (151,305) {\textit{x} = 8 mm};
\foreach \t/\py in {Escape/549,barrier/581,(mJ)/612}
  \node[font=\fs{17},tx] at (148,\py) {\t};
\node[font=\fs{17},tx] at (152,676) {\textit{x} = −53 mm};
\foreach \t/\py in {Energy/873,(mJ)/905}
  \node[font=\fs{17},tx] at (151,\py) {\t};
\node[font=\fs{15},tx] at (864,1087) {\textit{x} (mm)};
\foreach \t/\py in {Distribution/1199,of/1231,velocity/1263,directions/1295}
  \node[font=\fs{17},tx] at (150,\py) {\t};
% 3D tick labels
\foreach \t/\px/\py in {31/223/174,17/224/205,−3/224/230,−70/221/253,0/275.5/307,70/318/364,40/363.7/367,0/398/336,−40/444/304,−80/481/272,
  32/543/174,20/542/204,8/548/229,−70/541/253,0/594/305,70/637/361,40/682/364,0/717/333,−40/763/301,−80/800/270,
  180/858/174,94/862/203,8/868/229,−70/860/252,0/913.6/305,70/956.5/361,40/1002.3/364,0/1036.5/333,−40/1082.7/301,−80/1119/270,
  260/1181.8/174,134/1181.8/204,8/1187.4/229,−70/1180/252,0/1233.6/305,70/1276.3/361,40/1321.4/364,0/1356.5/333,−40/1401.8/301,−80/1438.7/270}
  \node[font=\fs{12.7}] at (\px,\py) {\t};
\foreach \t/\px/\py in {Body/244/322,roll (°)/244/351,Body/446/337,pitch (°)/445/365}
  \node[font=\fs{14.5},tx] at (\px,\py) {\t};
\foreach \t/\px/\py in {32/510/95,−3/510/356,32/828/96,8/828/352,180/1148/96,8/1148/352,260/1467/96,8/1467/352}
  \node[font=\fs{10.5}] at (\px,\py) {\t};
% B labels
\foreach \px in {382,694,1018,1325} {
  \node[font=\fs{15},tx] at (\px,424) {Pitch up};
  \node[font=\fs{15},tx] at (\px,759) {Pitch down};}
\foreach \px in {360.5,680,998.5,1318.5}
  \node[font=\fs{15},fill=blue,text=white,minimum width=44pt,minimum height=18pt] at (\px,531) {Pitch};
\foreach \px in {588,801,907,1120,1227,1440}
  \node[font=\fs{15},fill=red,text=white,minimum width=28.6pt,minimum height=17.5pt] at (\px,664) {Roll};
\node[font=\fs{15},fill=boxgreen,text=white,minimum width=56.5pt,minimum height=17pt] at (383.5,645) {2.3 mJ};
% C labels
\foreach \t/\px/\py in {40/210/805,20/210/918,0/216/1032}
  \node[font=\fs{12.7}] at (\px,\py) {\t};
% D labels
\foreach \px/\t in {377.4/1120,699/1120,1017/1121,1338.8/1121}
  \node[font=\fs{15},tx] at (\px,\t) {Pitch up};
\foreach \px/\t in {377.4/1457.6,699/1457.6,1017/1459,1338.8/1459}
  \node[font=\fs{15},tx] at (\px,\t) {Pitch down};
\foreach \px/\a/\b/\c in {282/332.7/308.6/0,610.6/660.8/637/0,907/957/933/0,1258/1308.4/1284.3/0} {
  \node[font=\fs{13}] at (\px,1160.6) {0.09};
  \node[font=\fs{13}] at (\b,1213) {0.06};
  \node[font=\fs{13}] at (\a,1270.7) {0.03};}
\foreach \px/\py in {517/1411,836/1412,1158/1117,1477/1118} {
  \node[font=\fs{15},tx,text=amber] at (\px,\py) {Minimal};
  \node[font=\fs{15},tx,text=amber] at (\px,\py+28) {escape};
  \node[font=\fs{15},tx,text=amber] at (\px,\py+56) {barrier};}
\end{tikzpicture}
\end{document}
